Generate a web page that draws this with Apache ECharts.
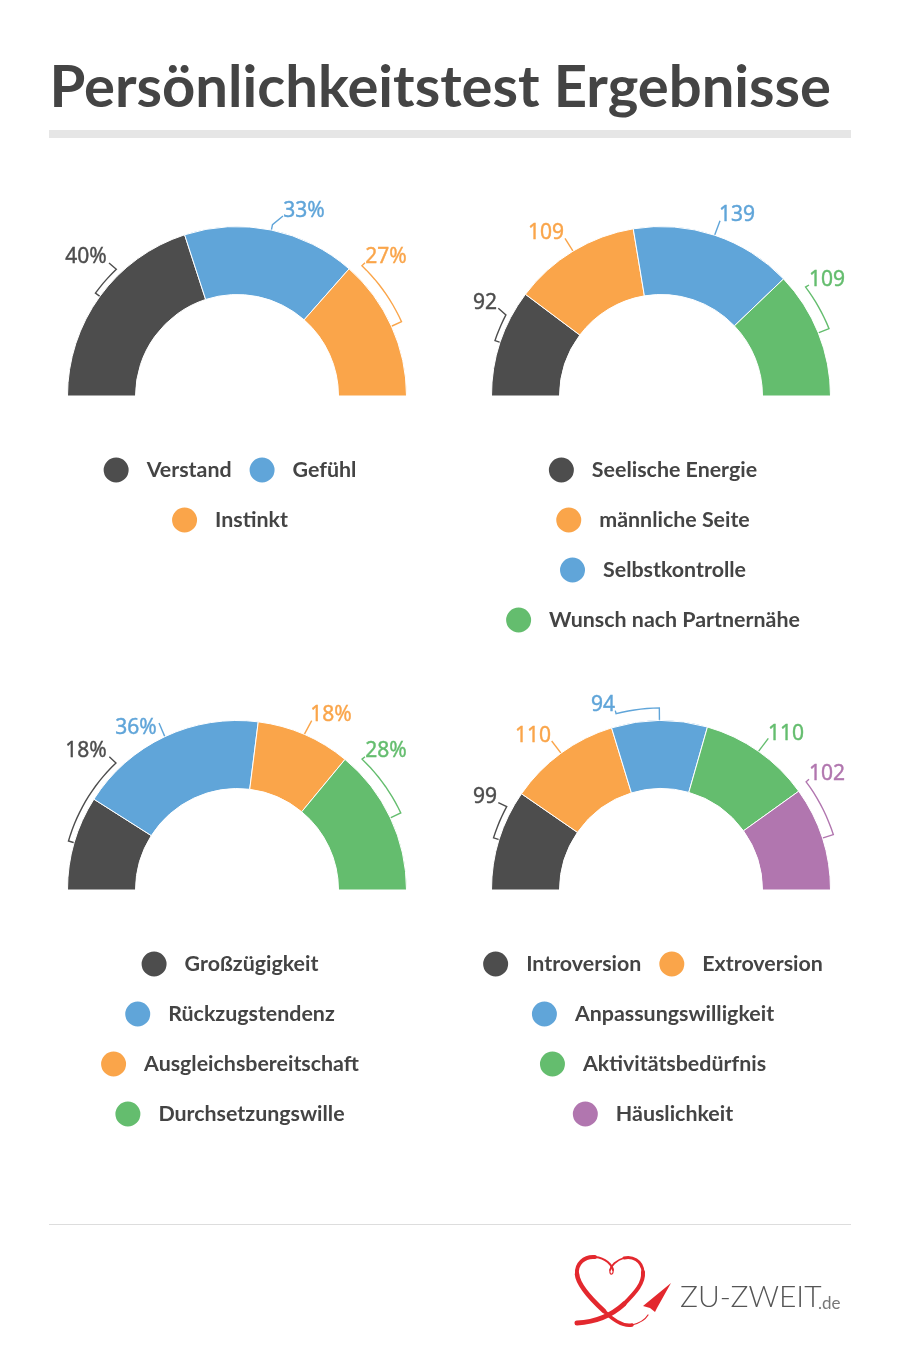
<!DOCTYPE html>
<html>
<head>
<meta charset="utf-8">
<title>Persönlichkeitstest Ergebnisse</title>
<script src="https://cdn.jsdelivr.net/npm/echarts@6/dist/echarts.min.js"></script>
<style>
  html, body { margin: 0; padding: 0; background: #fff; }
  #page { position: relative; width: 900px; height: 1366px; overflow: hidden; }
  #page div.box { position: absolute; }
</style>
</head>
<body>
<div id="page">
  <div id="frame" class="box" style="left:0;top:0;width:900px;height:1366px"></div>
  <div id="c1" class="box" style="left:0;top:170px;width:458px;height:490px"></div>
  <div id="c2" class="box" style="left:423px;top:170px;width:458px;height:490px"></div>
  <div id="c3" class="box" style="left:0;top:664px;width:458px;height:490px"></div>
  <div id="c4" class="box" style="left:423px;top:664px;width:458px;height:490px"></div>
</div>
<script>
// data
var names1 = ['Verstand', 'Gefühl', 'Instinkt'];
var values1 = [40, 33, 27];
var names2 = ['Seelische Energie', 'männliche Seite', 'Selbstkontrolle', 'Wunsch nach Partnernähe'];
var values2 = [92, 109, 139, 109];
var names3 = ['Großzügigkeit', 'Rückzugstendenz', 'Ausgleichsbereitschaft', 'Durchsetzungswille'];
var values3 = [18, 36, 18, 28];
var names4 = ['Introversion', 'Extroversion', 'Anpassungswilligkeit', 'Aktivitätsbedürfnis', 'Häuslichkeit'];
var values4 = [99, 110, 94, 110, 102];

var rows1 = [['Verstand', 'Gefühl'], ['Instinkt']];
var rows2 = [['Seelische Energie'], ['männliche Seite'], ['Selbstkontrolle'], ['Wunsch nach Partnernähe']];
var rows3 = [['Großzügigkeit'], ['Rückzugstendenz'], ['Ausgleichsbereitschaft'], ['Durchsetzungswille']];
var rows4 = [['Introversion', 'Extroversion'], ['Anpassungswilligkeit'], ['Aktivitätsbedürfnis'], ['Häuslichkeit']];

// colours per chart
var DARK = '#4d4d4d', BLUE = '#60a5d9', ORANGE = '#faa54a', GREEN = '#64bd6e', PURPLE = '#b176af';
var colors1 = [DARK, BLUE, ORANGE];
var colors2 = [DARK, ORANGE, BLUE, GREEN];
var colors3 = [DARK, BLUE, ORANGE, GREEN];
var colors4 = [DARK, ORANGE, BLUE, GREEN, PURPLE];

var TEXT = '#444444';
var FONT = '"Noto Sans", sans-serif';
var HEAD = 'Lato, "Noto Sans", sans-serif';
var RIN = 101.5, ROUT = 169.5;

// label placement in page pixels: label centre, where the leader meets it,
// and for the bracket ones the radius + far angle of the bracket arc
var leaders1 = [
  { lx: 86, ly: 257, ex: 109, ey: 263, r: 175, to: 133.6 },
  { lx: 304, ly: 211, ex: 283, ey: 216, r: 175 },
  { lx: 386, ly: 257, ex: 365, ey: 262.7, r: 180.5, to: 46.2 }
];
var leaders2 = [
  { lx: 485, ly: 303, ex: 498.3, ey: 308.3, r: 175, to: 152.4 },
  { lx: 546, ly: 233, ex: 565, ey: 238.3 },
  { lx: 737, ly: 215, ex: 720, ey: 220.7 },
  { lx: 827, ly: 280, ex: 809, ey: 285, r: 181, to: 37 }
];
var leaders3 = [
  { lx: 86, ly: 751, ex: 109.3, ey: 756.7, r: 175.5, to: 133.6 },
  { lx: 136, ly: 728, ex: 159, ey: 723 },
  { lx: 331, ly: 715, ex: 311.7, ey: 720.7 },
  { lx: 386, ly: 751, ex: 365, ey: 756.7, r: 181, to: 46.3 }
];
var leaders4 = [
  { lx: 485, ly: 797, ex: 498.3, ey: 802.7, r: 175.4, to: 151.6 },
  { lx: 533, ly: 736, ex: 551.7, ey: 741 },
  { lx: 603, ly: 705, ex: 615.3, ey: 710.7, r: 182, to: 104.3 },
  { lx: 786, ly: 734, ex: 768.3, ey: 738.3 },
  { lx: 827, ly: 774, ex: 809, ey: 779.3, r: 181, to: 36.7 }
];

function sum(arr) { return arr.reduce(function (a, b) { return a + b; }, 0); }

// angle of a slice's middle, degrees counted from the right going up
function midAngle(values, i) {
  var before = sum(values.slice(0, i));
  return 180 - (before + values[i] / 2) / sum(values) * 180;
}

function polar(cx, cy, r, deg) {
  var a = deg * Math.PI / 180;
  return [cx + r * Math.cos(a), cy - r * Math.sin(a)];
}

function leaderPoints(l, cx, cy, mid, ox, oy) {
  var pts = [polar(cx, cy, ROUT, mid)];
  if (l.r) {
    var far = l.to == null ? mid : l.to;
    var steps = Math.max(1, Math.round(Math.abs(far - mid) / 2));
    for (var s = 0; s <= steps; s++) {
      pts.push(polar(cx, cy, l.r, mid + (far - mid) * s / steps));
    }
  }
  pts.push([l.ex, l.ey]);
  return pts.map(function (p) { return [p[0] - ox, p[1] - oy]; });
}

function drawPie(id, names, values, colors, leaders, rows, unit, ox, oy, cx, cy) {
  var chart = echarts.init(document.getElementById(id));
  var data = names.map(function (n, i) {
    return {
      name: n, value: values[i],
      itemStyle: { color: colors[i] },
      label: { color: colors[i], textBorderColor: colors[i], textBorderWidth: 0.4 },
      labelLine: { lineStyle: { color: colors[i], width: 1.4 } }
    };
  });
  var legends = rows.map(function (row, i) {
    return {
      data: row, left: 'center', top: 280.5 + i * 50,
      icon: 'circle', itemWidth: 27, itemHeight: 27, itemGap: 16,
      selectedMode: false,
      textStyle: { color: TEXT, fontFamily: HEAD, fontSize: 21.4, fontWeight: 700, padding: [0, 0, 0, 12] }
    };
  });
  chart.setOption({
    animation: false,
    legend: legends,
    series: [{
      type: 'pie',
      center: [cx - ox, cy - oy],
      radius: [RIN, ROUT],
      startAngle: 180,
      endAngle: 360,
      silent: true,
      avoidLabelOverlap: false,
      itemStyle: { borderColor: '#fff', borderWidth: 1 },
      label: {
        show: true, position: 'outside', fontFamily: FONT, fontSize: 21,
        formatter: '{c}' + unit
      },
      labelLine: { show: true, smooth: 0 },
      labelLayout: function (p) {
        var l = leaders[p.dataIndex];
        return {
          x: l.lx - ox, y: l.ly - oy, align: 'center', verticalAlign: 'middle',
          labelLinePoints: leaderPoints(l, cx, cy, midAngle(values, p.dataIndex), ox, oy)
        };
      },
      data: data
    }]
  });
}

drawPie('c1', names1, values1, colors1, leaders1, rows1, '%', 0, 170, 237, 396);
drawPie('c2', names2, values2, colors2, leaders2, rows2, '', 423, 170, 661, 396);
drawPie('c3', names3, values3, colors3, leaders3, rows3, '%', 0, 664, 237, 890);
drawPie('c4', names4, values4, colors4, leaders4, rows4, '', 423, 664, 661, 890);

// logo ribbon as cubic segments: start, control 1, control 2, end
var RED = '#e3282e';
var ribbon = [
  [577, 1323, 596, 1322, 611, 1316, 624, 1304, 5],
  [624, 1304, 636, 1292, 644, 1283, 643, 1272, 4],
  [643, 1272, 642, 1260, 632, 1256, 624, 1258, 3],
  [624, 1258, 616, 1260, 611, 1266, 610, 1270, 1.8],
  [610, 1270, 609, 1276, 614, 1275, 613, 1270, 1.2],
  [613, 1270, 612, 1265, 606, 1258, 595, 1257, 2],
  [595, 1257, 584, 1256, 576, 1264, 577, 1274, 4],
  [577, 1274, 578, 1286, 592, 1300, 604, 1311, 4.6],
  [604, 1311, 612, 1319, 622, 1327, 632, 1325, 3.4],
  [632, 1325, 640, 1323, 645, 1320, 648, 1315, 1.2]
];
var ribbonEls = ribbon.map(function (s) {
  return {
    type: 'bezierCurve',
    shape: { x1: s[0], y1: s[1], cpx1: s[2], cpy1: s[3], cpx2: s[4], cpy2: s[5], x2: s[6], y2: s[7] },
    style: { fill: 'none', stroke: RED, lineWidth: s[8], lineCap: 'round' }
  };
});

// title, rules and logo
var frame = echarts.init(document.getElementById('frame'));
frame.setOption({
  animation: false,
  title: {
    text: 'Persönlichkeitstest Ergebnisse', left: 44.5, top: 54,
    textStyle: { color: TEXT, fontFamily: HEAD, fontSize: 58, fontWeight: 700 }
  },
  graphic: [
    { type: 'rect', shape: { x: 49, y: 130, width: 802, height: 8 }, style: { fill: '#e6e6e6' } },
    { type: 'rect', shape: { x: 49, y: 1224, width: 802, height: 1 }, style: { fill: '#dddddd' } }
  ].concat(ribbonEls).concat([
    { type: 'polygon', shape: { points: [[671, 1283], [643, 1306], [650, 1308], [655, 1312], [657, 1308]] }, style: { fill: RED } },
    { type: 'text', style: { text: 'ZU-ZWEIT', x: 680, y: 1312, textVerticalAlign: 'bottom', font: '300 30px Lato, sans-serif', fill: '#555555' } },
    { type: 'text', style: { text: '.de', x: 818, y: 1312, textVerticalAlign: 'bottom', font: '400 17px Lato, sans-serif', fill: '#777777' } }
  ])
});
</script>
</body>
</html>
